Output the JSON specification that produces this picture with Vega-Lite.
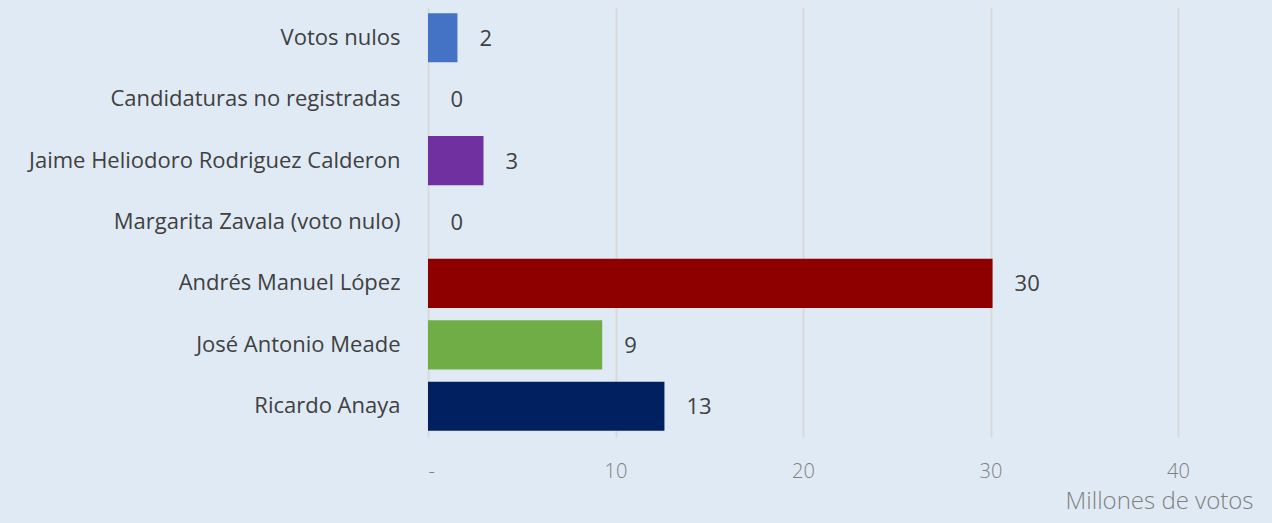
{
  "$schema": "https://vega.github.io/schema/vega-lite/v6.json",
  "autosize": {"type": "none"},
  "width": 825,
  "height": 430,
  "padding": {"left": 428, "top": 7, "right": 19, "bottom": 86},
  "background": "#dfeaf5",
  "config": {
    "view": {"stroke": null},
    "font": "Open Sans"
  },
  "data": {
    "values": [
      {"candidato": "Votos nulos", "votos": 1.57, "color": "#4472c4"},
      {"candidato": "Candidaturas no registradas", "votos": 0.03, "color": "transparent"},
      {"candidato": "Jaime Heliodoro Rodriguez Calderon", "votos": 2.96, "color": "#7030a0"},
      {"candidato": "Margarita Zavala (voto nulo)", "votos": 0.03, "color": "transparent"},
      {"candidato": "Andrés Manuel López", "votos": 30.11, "color": "#8e0000"},
      {"candidato": "José Antonio Meade", "votos": 9.29, "color": "#70ad47"},
      {"candidato": "Ricardo Anaya", "votos": 12.61, "color": "#002060"}
    ]
  },
  "encoding": {
    "y": {
      "field": "candidato",
      "type": "nominal",
      "sort": null,
      "scale": {"paddingInner": 0.2, "paddingOuter": 0.1},
      "axis": {
        "title": null,
        "ticks": false,
        "domain": false,
        "labelPadding": 28,
        "labelFontSize": 22,
        "labelColor": "#404040",
        "labelFont": "Open Sans",
        "labelLimit": 420
      }
    },
    "x": {
      "field": "votos",
      "type": "quantitative",
      "scale": {"domain": [0, 44], "nice": false},
      "axis": {
        "values": [0, 10, 20, 30, 40],
        "labelExpr": "datum.value == 0 ? '-' : datum.label",
        "grid": true,
        "gridColor": "#d9d9d9",
        "gridWidth": 2,
        "ticks": false,
        "domain": false,
        "labelPadding": 24,
        "labelFontSize": 20,
        "labelColor": "#7f7f7f",
        "labelFont": "Open Sans",
        "labelFontWeight": 300,
        "title": "Millones de votos",
        "titleAnchor": "end",
        "titleAlign": "right",
        "titleFontSize": 24,
        "titleFontWeight": 300,
        "titleColor": "#7f7f7f",
        "titleFont": "Open Sans",
        "titlePadding": 8
      }
    }
  },
  "layer": [
    {
      "mark": {"type": "bar"},
      "encoding": {
        "color": {"field": "color", "type": "nominal", "scale": null}
      }
    },
    {
      "mark": {"type": "text", "align": "left", "baseline": "middle", "dx": 22, "dy": 1, "fontSize": 22, "color": "#404040", "font": "Open Sans"},
      "encoding": {
        "text": {"field": "votos", "type": "quantitative", "format": ".0f"}
      }
    }
  ]
}
